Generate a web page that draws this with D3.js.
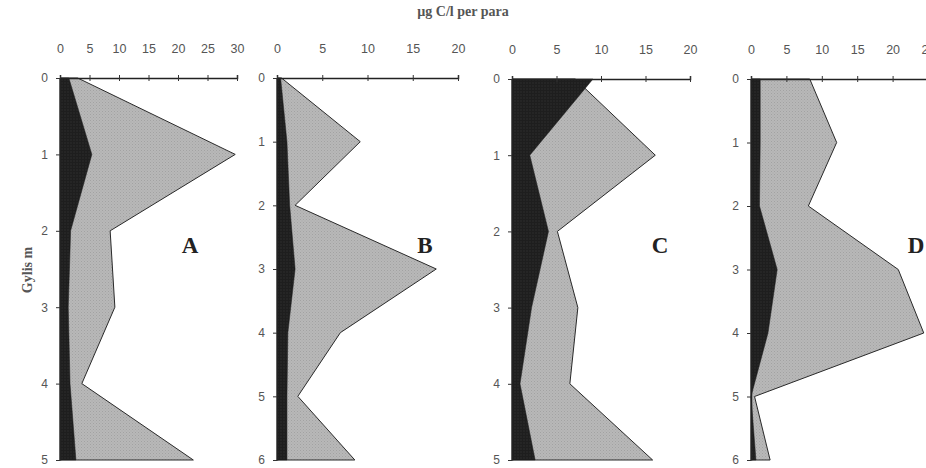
<!DOCTYPE html>
<html>
<head>
<meta charset="utf-8">
<script src="https://cdn.jsdelivr.net/npm/d3@7"></script>
<style>
  body { margin: 0; background: #fff; }
  svg { display: block; }
  .tick text { font-family: "Liberation Sans", Arial, sans-serif; fill: #555; }
</style>
</head>
<body>
<svg id="chart" width="926" height="468"></svg>
<script>
const width = 926;
const height = 468;

// depth steps, m
const depthsA = [0, 1, 2, 3, 4, 5];
const depthsB = [0, 1, 2, 3, 4, 5, 6];
const depthsC = [0, 1, 2, 3, 4, 5];
const depthsD = [0, 1, 2, 3, 4, 5, 6];

// gray area (total) and dark area, µg C/l
const grayA = [3.0, 29.7, 8.5, 9.3, 3.7, 22.6];
const darkA = [1.5, 5.4, 1.8, 1.4, 1.7, 2.7];
const grayB = [0.5, 9.2, 2.0, 17.6, 7.0, 2.3, 8.6];
const darkB = [0.4, 1.1, 1.4, 2.0, 1.2, 1.1, 1.1];
const grayC = [7.1, 16.1, 5.1, 7.4, 6.5, 15.8];
const darkC = [9.1, 2.0, 4.1, 2.2, 0.9, 2.6];
const grayD = [8.3, 12.1, 8.1, 20.8, 24.4, 0.5, 2.7];
const darkD = [1.3, 1.3, 1.2, 3.7, 2.4, 0.0, 0.7];

const xMaxes = [30, 20, 20, 25];
const letters = ["A", "B", "C", "D"];

const panels = [
  { depths: depthsA, gray: grayA, dark: darkA, xmax: xMaxes[0], letter: letters[0], x0: 60, x1: 237, y0: 78, y1: 460, lx: 190 },
  { depths: depthsB, gray: grayB, dark: darkB, xmax: xMaxes[1], letter: letters[1], x0: 277, x1: 458, y0: 78, y1: 460, lx: 425 },
  { depths: depthsC, gray: grayC, dark: darkC, xmax: xMaxes[2], letter: letters[2], x0: 512, x1: 690, y0: 79, y1: 460, lx: 660 },
  { depths: depthsD, gray: grayD, dark: darkD, xmax: xMaxes[3], letter: letters[3], x0: 751, x1: 928, y0: 79, y1: 460, lx: 916 }
];

const svg = d3.select("#chart");

// stipple textures like the scanned print
const defs = svg.append("defs");
const pg = defs.append("pattern").attr("id", "grayFill")
  .attr("width", 3).attr("height", 3).attr("patternUnits", "userSpaceOnUse");
pg.append("rect").attr("width", 3).attr("height", 3).attr("fill", "#b8b8b8");
pg.append("rect").attr("x", 0).attr("y", 0).attr("width", 1).attr("height", 1).attr("fill", "#a2a2a2");
pg.append("rect").attr("x", 1.5).attr("y", 1.5).attr("width", 1).attr("height", 1).attr("fill", "#a8a8a8");
const pd = defs.append("pattern").attr("id", "darkFill")
  .attr("width", 3).attr("height", 3).attr("patternUnits", "userSpaceOnUse");
pd.append("rect").attr("width", 3).attr("height", 3).attr("fill", "#1e1e1e");
pd.append("rect").attr("x", 1.5).attr("y", 1.5).attr("width", 1).attr("height", 1).attr("fill", "#3a3a3a");

panels.forEach(p => {
  const x = d3.scaleLinear().domain([0, p.xmax]).range([p.x0, p.x1]);
  const y = d3.scaleLinear().domain([0, d3.max(p.depths)]).range([p.y0, p.y1]);
  const g = svg.append("g");

  const area = vals => d3.area()
    .y((d, i) => y(p.depths[i]))
    .x0(x(0))
    .x1((d, i) => x(vals[i]))(vals);

  g.append("path")
    .attr("d", area(p.gray))
    .attr("fill", "url(#grayFill)")
    .attr("stroke", "#2a2a2a")
    .attr("stroke-width", 1);

  g.append("path")
    .attr("d", area(p.dark))
    .attr("fill", "url(#darkFill)")
    .attr("stroke", "#1a1a1a")
    .attr("stroke-width", 0.5);

  const xAxis = g.append("g")
    .attr("transform", `translate(0,${p.y0})`)
    .call(d3.axisTop(x).ticks(p.xmax / 5).tickSize(3).tickPadding(22));
  xAxis.select(".domain").attr("stroke", "#222").attr("stroke-width", 1.5);
  xAxis.selectAll(".tick line").attr("stroke", "#333").attr("y2", 3).attr("y1", -3);
  xAxis.selectAll(".tick text").attr("font-size", 12.5);

  const yAxis = g.append("g")
    .attr("transform", `translate(${p.x0},0)`)
    .call(d3.axisLeft(y).ticks(d3.max(p.depths)).tickSize(4).tickPadding(8).tickSizeOuter(0));
  yAxis.select(".domain").attr("stroke", "#222").attr("stroke-width", 1.5);
  yAxis.selectAll(".tick line").attr("stroke", "#333");
  yAxis.selectAll(".tick text").attr("font-size", 12);

  g.append("text")
    .attr("x", p.lx)
    .attr("y", 253)
    .attr("text-anchor", "middle")
    .attr("font-family", "Liberation Serif, Times New Roman, serif")
    .attr("font-weight", "bold")
    .attr("font-size", 23)
    .attr("fill", "#222")
    .text(p.letter);
});

svg.append("text")
  .attr("x", 463)
  .attr("y", 16)
  .attr("text-anchor", "middle")
  .attr("font-family", "Liberation Serif, Times New Roman, serif")
  .attr("font-weight", "bold")
  .attr("font-size", 14)
  .attr("fill", "#555")
  .text("µg C/l per para");

svg.append("text")
  .attr("transform", "translate(32,270) rotate(-90)")
  .attr("text-anchor", "middle")
  .attr("font-family", "Liberation Serif, Times New Roman, serif")
  .attr("font-weight", "bold")
  .attr("font-size", 14)
  .attr("fill", "#555")
  .text("Gylis m");
</script>
</body>
</html>
